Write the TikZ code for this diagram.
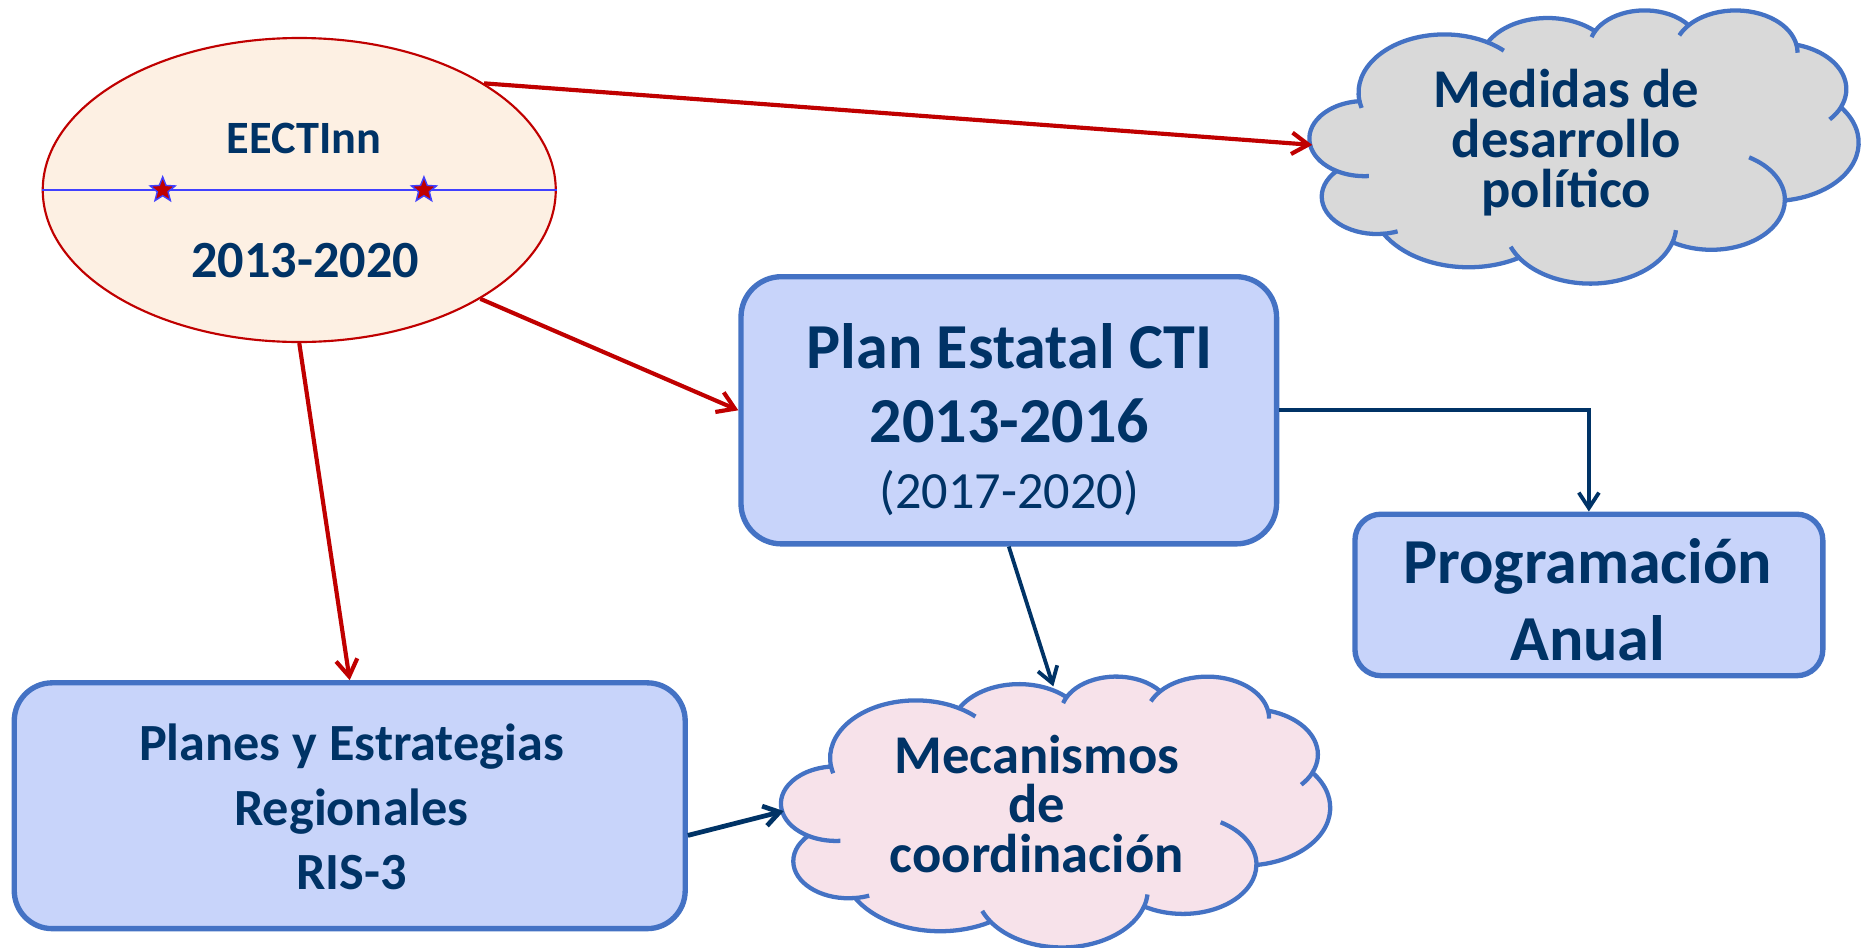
\documentclass[tikz,border=0pt]{standalone}
\usepackage{fontspec}
\setmainfont{Carlito}
\usetikzlibrary{arrows.meta,shapes.geometric,calc}
\definecolor{navy}{HTML}{003366}
\definecolor{rojo}{HTML}{C00000}
\definecolor{boxfill}{HTML}{C8D4FA}
\definecolor{boxline}{HTML}{4472C4}
\definecolor{ellfill}{HTML}{FDF0E3}
\definecolor{grayfill}{HTML}{D9D9D9}
\definecolor{pinkfill}{HTML}{F7E2EA}
\definecolor{brightblue}{HTML}{4040FF}

% arc of an OOXML-like cloud: x radius, y radius, visual start angle, visual sweep
\newcommand\cldarc[4]{%
  \pgfextra{%
    \pgfmathsetmacro\cldA{atan2((#1)*sin(#3),(#2)*cos(#3))}%
    \pgfmathsetmacro\cldB{atan2((#1)*sin((#3)+(#4)),(#2)*cos((#3)+(#4)))}%
    \pgfmathsetmacro\cldD{Mod(\cldB-\cldA,360)}%
    \pgfmathsetmacro\cldD{(#4)<0 ? \cldD-360 : \cldD}%
    \xdef\cldA{\cldA}\xdef\cldD{\cldD}%
  }%
  arc[start angle=\cldA, delta angle=\cldD, x radius=#1, y radius=#2]%
}
\newcommand\cloudpath[1]{%
  (39.00,143.70) coordinate (#10)
  \cldarc{67.53}{91.90}{-190.4875}{123.7805} coordinate (#11)
  \cldarc{53.33}{72.67}{-144.1024}{89.9452} coordinate (#12)
  \cldarc{43.65}{59.45}{-145.8079}{99.7230} coordinate (#13)
  \cldarc{48.57}{65.95}{-130.9861}{117.2417} coordinate (#14)
  \cldarc{53.33}{72.73}{-78.7089}{109.0269} coordinate (#15)
  \cldarc{67.75}{92.20}{-46.2673}{130.2690} coordinate (#16)
  \cldarc{57.85}{78.67}{0.6250}{114.0333} coordinate (#17)
  \cldarc{67.52}{92.15}{22.4516}{115.1726} coordinate (#18)
  \cldarc{77.20}{105.43}{66.2426}{75.7110} coordinate (#19)
  \cldarc{43.60}{59.18}{-274.9421}{146.7356} coordinate (#110)
  \cldarc{43.45}{59.45}{-246.8285}{152.5189} -- cycle}
\newcommand\cloudinner[1]{%
  (#10) \cldarc{67.53}{91.90}{-190.4875}{-10}
  (#11) \cldarc{67.53}{91.90}{-66.7070}{12}
  (#12) \cldarc{43.65}{59.45}{-145.8079}{-11.8673}
  (#13) \cldarc{48.57}{65.95}{-130.9861}{-18.1907}
  (#14) \cldarc{48.57}{65.95}{-13.7444}{14.8541}
  (#15) \cldarc{53.33}{72.73}{30.3180}{19.77}
  (#16) \cldarc{57.85}{78.67}{0.6250}{-66.9275}
  (#17) \cldarc{67.52}{92.15}{22.4516}{-15.9984}
  (#18) \cldarc{67.52}{92.15}{137.6242}{14.0811}
  (#19) \cldarc{43.60}{59.18}{-274.9421}{-11.4475}
  (#110) \cldarc{43.45}{59.45}{-246.8285}{-26.4295}}

\begin{document}
\begin{tikzpicture}[x=1pt,y=-1pt,
  boxst/.style={draw=boxline, fill=boxfill, line width=4.5pt, inner sep=0pt},
  cloudline/.style={draw=boxline, line width=3.6pt, line join=round},
  txt/.style={text=navy, align=center, inner sep=0pt},
  redarr/.style={draw=rojo, line width=3.5pt, -{Straight Barb[length=14pt,width=18pt]}},
  navyarr/.style={draw=navy, line width=3.2pt, -{Straight Barb[length=13pt,width=17pt]}}]
\fill[white] (0,0) rectangle (1568,798);
\useasboundingbox (0,0) rectangle (1568,798);

% ellipse EECTInn
\node[ellipse, draw=rojo, line width=1.8pt, fill=ellfill, minimum width=432pt,
      minimum height=256pt, inner sep=0pt] (E) at (252,160) {};
\draw[brightblue, line width=1.7pt] (E.west) -- (E.east);
\node[star, star points=5, star point ratio=2.3, fill=rojo, draw=brightblue,
      line width=1.2pt, minimum size=22pt, inner sep=0pt] (s1) at (137,160) {};
\node[star, star points=5, star point ratio=2.3, fill=rojo, draw=brightblue,
      line width=1.2pt, minimum size=22pt, inner sep=0pt] (s2) at (357,160) {};
\node[txt, anchor=base, font=\fontsize{39}{47}\selectfont\bfseries] (t1) at (256,129) {EECTInn};
\node[txt, anchor=base, font=\fontsize{44}{53}\selectfont\bfseries] (t2) at (257,234) {2013-2020};

% boxes
\node[boxst, minimum width=451pt, minimum height=225pt, rounded corners=34pt] (plan) at (849.5,345.5) {};
\node[txt, font=\fontsize{54}{63}\selectfont\bfseries] (tplan) at (850,353)
  {Plan Estatal CTI\\2013-2016\\[-8pt]{\fontsize{44}{53}\selectfont\mdseries (2017-2020)}};
\node[boxst, minimum width=394pt, minimum height=136pt, rounded corners=22pt] (prog) at (1338,501) {};
\node[txt, font=\fontsize{54}{65}\selectfont\bfseries] (tprog) at (1337,505) {Programación\\Anual};
\node[boxst, minimum width=565pt, minimum height=207pt, rounded corners=32pt] (planes) at (294.5,678.5) {};
\node[txt, font=\fontsize{44}{54}\selectfont\bfseries] (tplanes) at (296,679.5)
  {Planes y Estrategias\\Regionales\\RIS-3};

% cloud: Medidas
\begin{scope}[shift={(1103,8)}, xscale=1.0694, yscale=0.5324]
  \path[cloudline, fill=grayfill] \cloudpath{m};
  \path[cloudline] \cloudinner{m};
\end{scope}
\node[txt, font=\fontsize{46}{42}\selectfont\bfseries] (med) at (1319,120)
  {Medidas de\\desarrollo\\político};
\coordinate (medL) at (1105,122);

% cloud: Mecanismos
\begin{scope}[shift={(658,569)}, xscale=1.0694, yscale=0.5278]
  \path[cloudline, fill=pinkfill] \cloudpath{k};
  \path[cloudline] \cloudinner{k};
\end{scope}
\node[txt, font=\fontsize{46}{42}\selectfont\bfseries] (mec) at (873,677)
  {Mecanismos\\de\\coordinación};
\coordinate (mecT) at (887,578);
\coordinate (mecL) at (660,683);

% connectors
\draw[redarr] (E.30.4) -- (medL);
\draw[redarr] (E.-31) -- (plan.west);
\draw[redarr] (E.south) -- (planes.north);
\draw[navyarr] (plan.east) -| (prog.north);
\draw[navyarr] (plan.south) -- (mecT);
\draw[navyarr, line width=4pt] ([yshift=-25pt]planes.east) -- (mecL);
\end{tikzpicture}
\end{document}
